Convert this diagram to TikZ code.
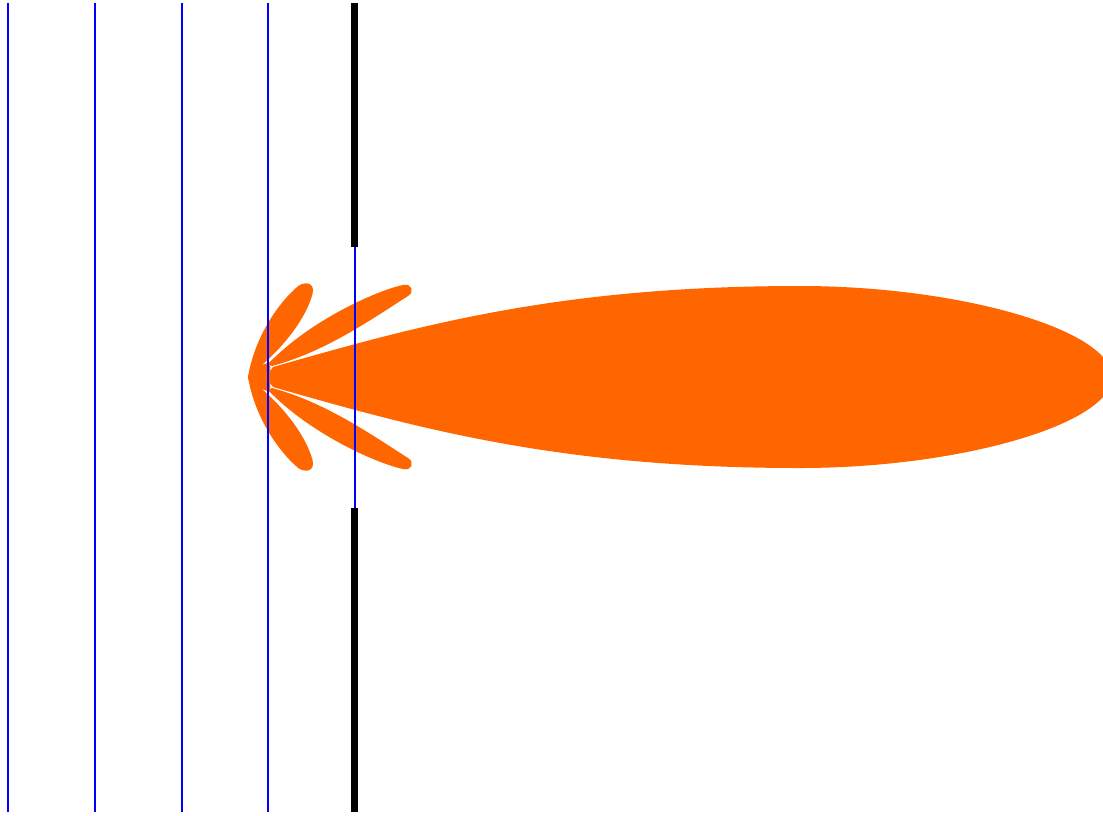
\documentclass[tikz,border=0pt]{standalone}
\definecolor{orng}{RGB}{255,102,0}
\newcommand{\upperlobes}{%
  % second side lobe merged with the backward part
  \fill[lobe] (271,379) -- (270,362) -- (262,365)
    .. controls (285,345) and (306,318) .. (312.5,294)
    .. controls (316,281) and (302,281) .. (296,288)
    .. controls (280,302) and (255,335) .. (248,377)
    -- (248,379) -- cycle;
  % first side lobe
  \fill[lobe] (268,364)
    .. controls (310,320) and (378,290) .. (403,285)
    .. controls (412,283) and (415,292) .. (408,296)
    .. controls (372,319) and (325,352) .. (272,366) -- cycle;
}
\begin{document}
\begin{tikzpicture}[x=1pt,y=-1pt,
  lobe/.style={fill=orng},
  wave/.style={draw=blue,line width=1.2pt},
  screen/.style={fill=black}]
\useasboundingbox (0,0) rectangle (1103,815);
% main lobe
\fill[lobe] (266,377) -- (273,367)
  .. controls (420,325) and (560,286) .. (800,286)
  .. controls (960,286) and (1112,330) .. (1112,377)
  .. controls (1112,424) and (960,468) .. (800,468)
  .. controls (560,468) and (420,429) .. (273,387) -- cycle;
% side lobes, upper half and mirrored lower half
\upperlobes
\begin{scope}[shift={(0,754)},yscale=-1]
  \upperlobes
\end{scope}
% wave fronts
\foreach \xx in {8,95,182,268,355}
  \draw[wave] (\xx,3) -- (\xx,812);
% screen with slit
\fill[screen] (351,3) rectangle (358,247);
\fill[screen] (351,508) rectangle (358,812);
\end{tikzpicture}
\end{document}
